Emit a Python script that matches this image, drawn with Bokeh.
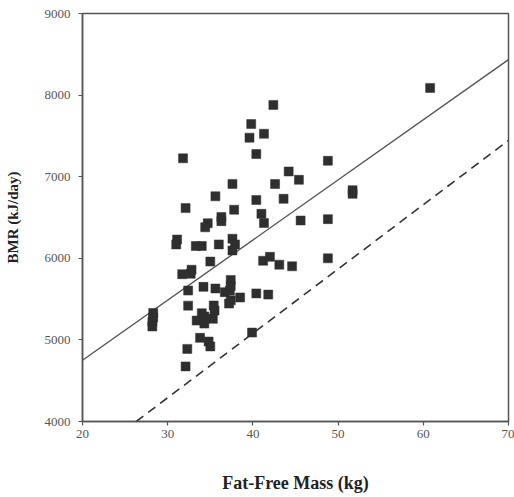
from bokeh.plotting import figure
from bokeh.models import Range1d, FixedTicker, ColumnDataSource
from bokeh.embed import file_html
from bokeh.resources import INLINE

# Fat-free mass (kg) and BMR (kJ/day) of the subjects
ffm = [28.3, 28.3, 28.2, 28.2, 31.1, 31.0, 31.8, 32.1, 31.7, 32.7,
       32.8, 32.4, 32.4, 32.3, 32.1, 33.3, 34.0, 34.7, 34.4, 35.6,
       36.3, 36.3, 36.0, 35.0, 34.2, 35.6, 36.7, 37.3, 37.4, 37.4,
       38.5, 37.2, 37.4, 35.4, 35.5, 35.3, 34.0, 34.3, 33.4, 34.3,
       33.8, 34.8, 35.0, 39.9, 37.6, 37.8, 37.6, 37.9, 37.6, 39.8,
       39.6, 41.3, 42.4, 40.4, 44.2, 42.6, 45.4, 48.8, 40.4, 43.6,
       41.0, 41.3, 45.6, 48.8, 51.7, 51.7, 41.2, 42.0, 43.1, 44.6,
       48.8, 40.4, 41.8, 60.8]
bmr = [5330, 5275, 5220, 5165, 6230, 6170, 7225, 6615, 5805, 5810,
       5860, 5605, 5420, 4890, 4675, 6150, 6150, 6430, 6380, 6760,
       6505, 6455, 6170, 5960, 5650, 5630, 5585, 5605, 5735, 5660,
       5520, 5445, 5485, 5422, 5360, 5258, 5327, 5287, 5237, 5200,
       5025, 4980, 4920, 5090, 6912, 6595, 6240, 6170, 6096, 7645,
       7478, 7526, 7880, 7278, 7064, 6910, 6962, 7195, 6715, 6729,
       6545, 6432, 6463, 6480, 6835, 6790, 5970, 6018, 5922, 5902,
       6000, 5570, 5555, 8088]

# Regression line (solid) and predicted line (dashed)
reg_x = [20, 70]
reg_y = [4750, 8435]
pred_x = [26.3, 70]
pred_y = [4000, 7445]

x_ticks = [20, 30, 40, 50, 60, 70]
y_ticks = [4000, 5000, 6000, 7000, 8000, 9000]

p = figure(frame_width=426, frame_height=408, output_backend="svg",
           toolbar_location=None,
           x_range=Range1d(20, 70), y_range=Range1d(4000, 9000),
           min_border_left=82, min_border_right=6, min_border_top=13,
           min_border_bottom=76)
p.background_fill_color = "white"
p.border_fill_color = "white"
p.outline_line_color = "#555555"
p.outline_line_width = 1.5
p.grid.visible = False

p.line(reg_x, reg_y, line_color="#555555", line_width=1.4)
p.line(pred_x, pred_y, line_color="#333333", line_width=1.6, line_dash="9 6")

src = ColumnDataSource(dict(x=ffm, y=bmr))
p.scatter("x", "y", source=src, marker="square", size=9,
          fill_color="#2f2f2f", line_color="#2f2f2f", line_width=0.5)

for ax in (p.xaxis[0], p.yaxis[0]):
    ax.axis_line_color = "#555555"
    ax.axis_line_width = 1.5
    ax.major_tick_line_color = "#555555"
    ax.major_tick_line_width = 1.2
    ax.major_tick_out = 4
    ax.major_tick_in = 0
    ax.minor_tick_line_color = None
    ax.major_label_text_font = "Liberation Serif"
    ax.major_label_text_font_size = "13px"
    ax.major_label_text_color = "#555555"
    ax.axis_label_text_font = "Liberation Serif"
    ax.axis_label_text_font_style = "bold"
    ax.axis_label_text_color = "#222222"

p.xaxis[0].ticker = FixedTicker(ticks=x_ticks)
p.yaxis[0].ticker = FixedTicker(ticks=y_ticks)
p.xaxis[0].axis_label = "Fat-Free Mass (kg)"
p.yaxis[0].axis_label = "BMR (kJ/day)"
p.xaxis[0].axis_label_text_font_size = "18px"
p.yaxis[0].axis_label_text_font_size = "15px"
p.xaxis[0].major_label_standoff = 4
p.yaxis[0].major_label_standoff = 8
p.xaxis[0].axis_label_standoff = 32
p.yaxis[0].axis_label_standoff = 21

open("out.html", "w").write(file_html(p, INLINE))
